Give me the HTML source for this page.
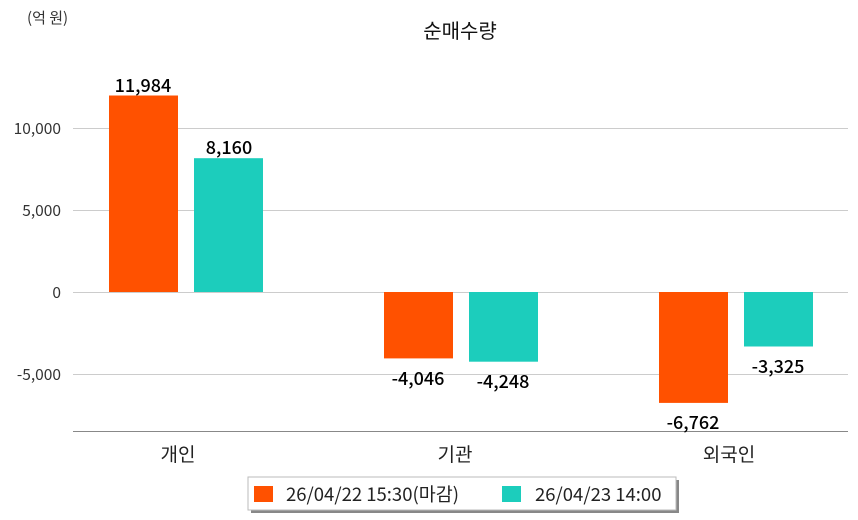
<!DOCTYPE html>
<html><head><meta charset="utf-8"><style>
body{margin:0;background:#fff;}
svg{display:block;font-family:"Noto Sans CJK KR","DejaVu Sans",sans-serif;}
</style></head><body>
<svg width="858" height="520" viewBox="0 0 858 520">
<text x="27" y="23" font-size="15" fill="#333">(억 원)</text>
<text x="460" y="38" font-size="20" text-anchor="middle" fill="#111">순매수량</text>
<g stroke="#ccc" stroke-width="1">
<line x1="73" y1="128.5" x2="848" y2="128.5"/>
<line x1="73" y1="210.5" x2="848" y2="210.5"/>
<line x1="73" y1="292.5" x2="848" y2="292.5"/>
<line x1="73" y1="374.5" x2="848" y2="374.5"/>
</g>
<line x1="73" y1="431.5" x2="848" y2="431.5" stroke="#888"/>
<g font-size="15.5" fill="#333" text-anchor="end" textLength="">
<text x="61" y="134">10,000</text>
<text x="61" y="216">5,000</text>
<text x="61" y="298">0</text>
<text x="61" y="380">-5,000</text>
</g>
<g font-size="18" font-weight="500" fill="#000" text-anchor="middle">
</g>
<g fill="#ff5100">
<rect x="109" y="95.5" width="69" height="196.5"/>
<rect x="384" y="292" width="69" height="66.4"/>
<rect x="659" y="292" width="69" height="110.9"/>
</g>
<g fill="#1ccdbc">
<rect x="194" y="158.2" width="69" height="133.8"/>
<rect x="469" y="292" width="69" height="69.7"/>
<rect x="744" y="292" width="69" height="54.5"/>
</g>
<g font-size="18" font-weight="500" fill="#000" text-anchor="middle">
<text x="143" y="92">11,984</text>
<text x="229" y="154">8,160</text>
<text x="418" y="385">-4,046</text>
<text x="503" y="388">-4,248</text>
<text x="693" y="429">-6,762</text>
<text x="778" y="373">-3,325</text>
</g>
<g font-size="19" fill="#222" text-anchor="middle">
<text x="178" y="461">개인</text>
<text x="455" y="461">기관</text>
<text x="729" y="461">외국인</text>
</g>
<rect x="251" y="480" width="428" height="33" fill="#888"/>
<rect x="248" y="477" width="428" height="33" fill="#fff" stroke="#bbb"/>
<rect x="254" y="486" width="19" height="16" fill="#ff5100"/>
<text x="286" y="501" font-size="18.5" fill="#222">26/04/22 15:30(마감)</text>
<rect x="502" y="486" width="19" height="16" fill="#1ccdbc"/>
<text x="535" y="501" font-size="18.5" fill="#222">26/04/23 14:00</text>
</svg>
</body></html>
